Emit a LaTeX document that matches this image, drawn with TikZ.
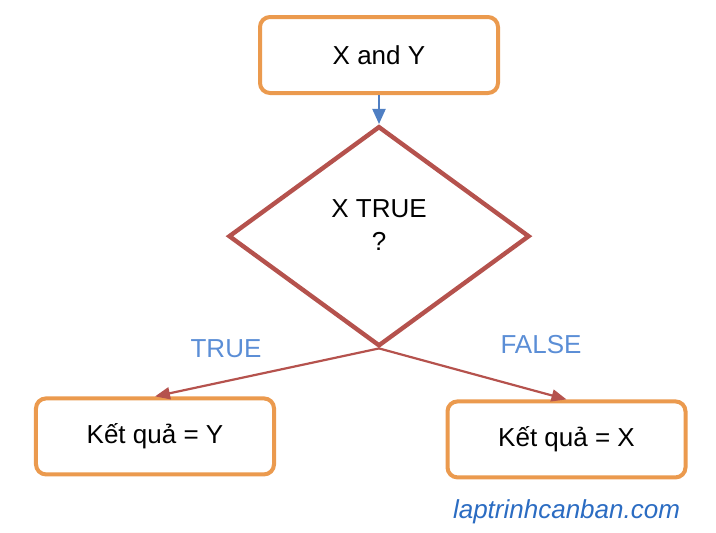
\documentclass[tikz,border=0pt]{standalone}
\usepackage{fontspec}
\setmainfont{Liberation Sans}
\usetikzlibrary{arrows.meta,positioning,shapes.geometric}
\definecolor{boxorange}{HTML}{EB9A4E}
\definecolor{condred}{HTML}{B5524D}
\definecolor{flowblue}{HTML}{4F7FC3}
\definecolor{lblblue}{HTML}{5B8ED6}
\definecolor{siteblue}{HTML}{2B6CC2}

\begin{document}
\begin{tikzpicture}[
  font=\fontsize{13}{16.5}\selectfont,
  box/.style={draw=boxorange, line width=2pt, rounded corners=5pt, minimum width=119pt, minimum height=38pt, align=center, fill=white},
  cond/.style={draw=condred, diamond, line width=2.2pt, minimum width=150.5pt, minimum height=110pt, inner sep=0pt, align=center},
  flow/.style={-{Triangle[length=7.5pt,width=6.5pt]}, draw=flowblue, line width=1pt},
  branch/.style={-{Triangle[length=7.5pt,width=6pt]}, draw=condred, line width=1.1pt},
  lbl/.style={text=lblblue}
]
\useasboundingbox (-189.5pt,-238.5pt) rectangle (168.5pt,27.5pt);

\node[box] (start) {X and Y};
\node[cond, below=14.5pt of start] (test) {X TRUE\\?\\[-5pt]\mbox{}};
\node[box, below=24pt of test.south, xshift=-112pt] (yes) {Kết quả = Y};
\node[box, below=25.5pt of test.south, xshift=93.75pt] (no) {Kết quả = X};

\node[lbl] (truelbl) at ([xshift=-76.5pt]test.south) {TRUE};
\node[lbl] (falselbl) at ([xshift=81pt, yshift=2pt]test.south) {FALSE};
\node[text=siteblue, font=\fontsize{13}{16}\selectfont\itshape] (site) at ([yshift=-16pt]no.south) {laptrinhcanban.com};

\draw[flow] (start) -- (test);
\draw[branch] (test.south) -- (yes.north);
\draw[branch] (test.south) -- (no.north);
\end{tikzpicture}
\end{document}
